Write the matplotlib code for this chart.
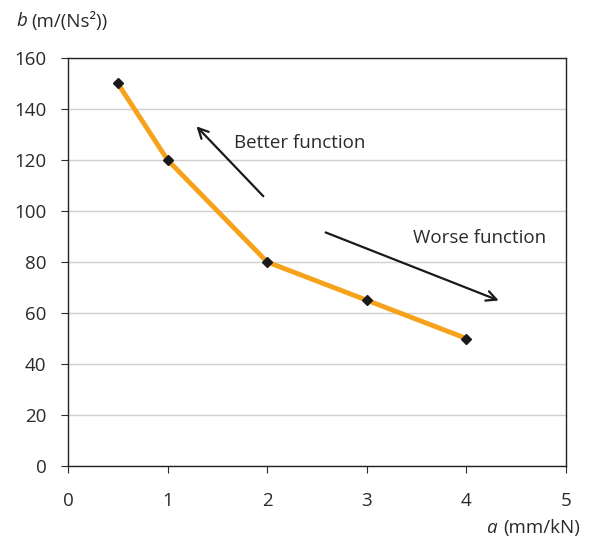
import matplotlib
matplotlib.use("Agg")
import matplotlib.pyplot as plt

plt.rcParams['font.family'] = ['Open Sans', 'DejaVu Sans']

# data
a_vals = [0.5, 1, 2, 3, 4]
b_vals = [150, 120, 80, 65, 50]
x_ticks = [0, 1, 2, 3, 4, 5]
y_ticks = [0, 20, 40, 60, 80, 100, 120, 140, 160]

txt = '#2a2a2a'

fig = plt.figure(figsize=(5.94, 5.40), dpi=100)
ax = fig.add_axes([0.1145, 0.137, 0.8385, 0.7556])

ax.plot(a_vals, b_vals, color='#F7A21B', lw=3.5, zorder=3)
ax.plot(a_vals, b_vals, ls='none', marker='D', ms=5.5, color='#1a1a1a', zorder=4)

ax.set_xlim(0, 5)
ax.set_ylim(0, 160)
ax.set_xticks(x_ticks)
ax.set_yticks(y_ticks)
ax.yaxis.grid(True, color='#d0d0d0', lw=1)
ax.set_axisbelow(True)
for s in ax.spines.values():
    s.set_color('#222222')
    s.set_linewidth(1)
ax.tick_params(labelsize=13.5, colors=txt, length=5)
ax.tick_params(axis='y', pad=10.5)
ax.tick_params(axis='x', pad=14)

# arrows and labels
ax.annotate('', xy=(1.27, 134), xytext=(1.98, 105),
            arrowprops=dict(arrowstyle='->', color='#1a1a1a', lw=1.6, mutation_scale=18))
ax.annotate('', xy=(4.35, 64.5), xytext=(2.56, 92),
            arrowprops=dict(arrowstyle='->', color='#1a1a1a', lw=1.6, mutation_scale=18))
ax.text(1.67, 126.5, 'Better function', fontsize=13.5, color=txt, va='center')
ax.text(3.46, 89.5, 'Worse function', fontsize=13.5, color=txt, va='center')

fig.text(0.027, 0.961, 'b', fontsize=13.5, style='italic', color=txt, va='center')
fig.text(0.053, 0.961, '(m/(Ns²))', fontsize=13.5, color=txt, va='center')
fig.text(0.819, 0.022, 'a', fontsize=13.5, style='italic', color=txt, va='center')
fig.text(0.977, 0.022, '(mm/kN)', fontsize=13.5, color=txt, ha='right', va='center')

fig.savefig('out.png', dpi=100)
